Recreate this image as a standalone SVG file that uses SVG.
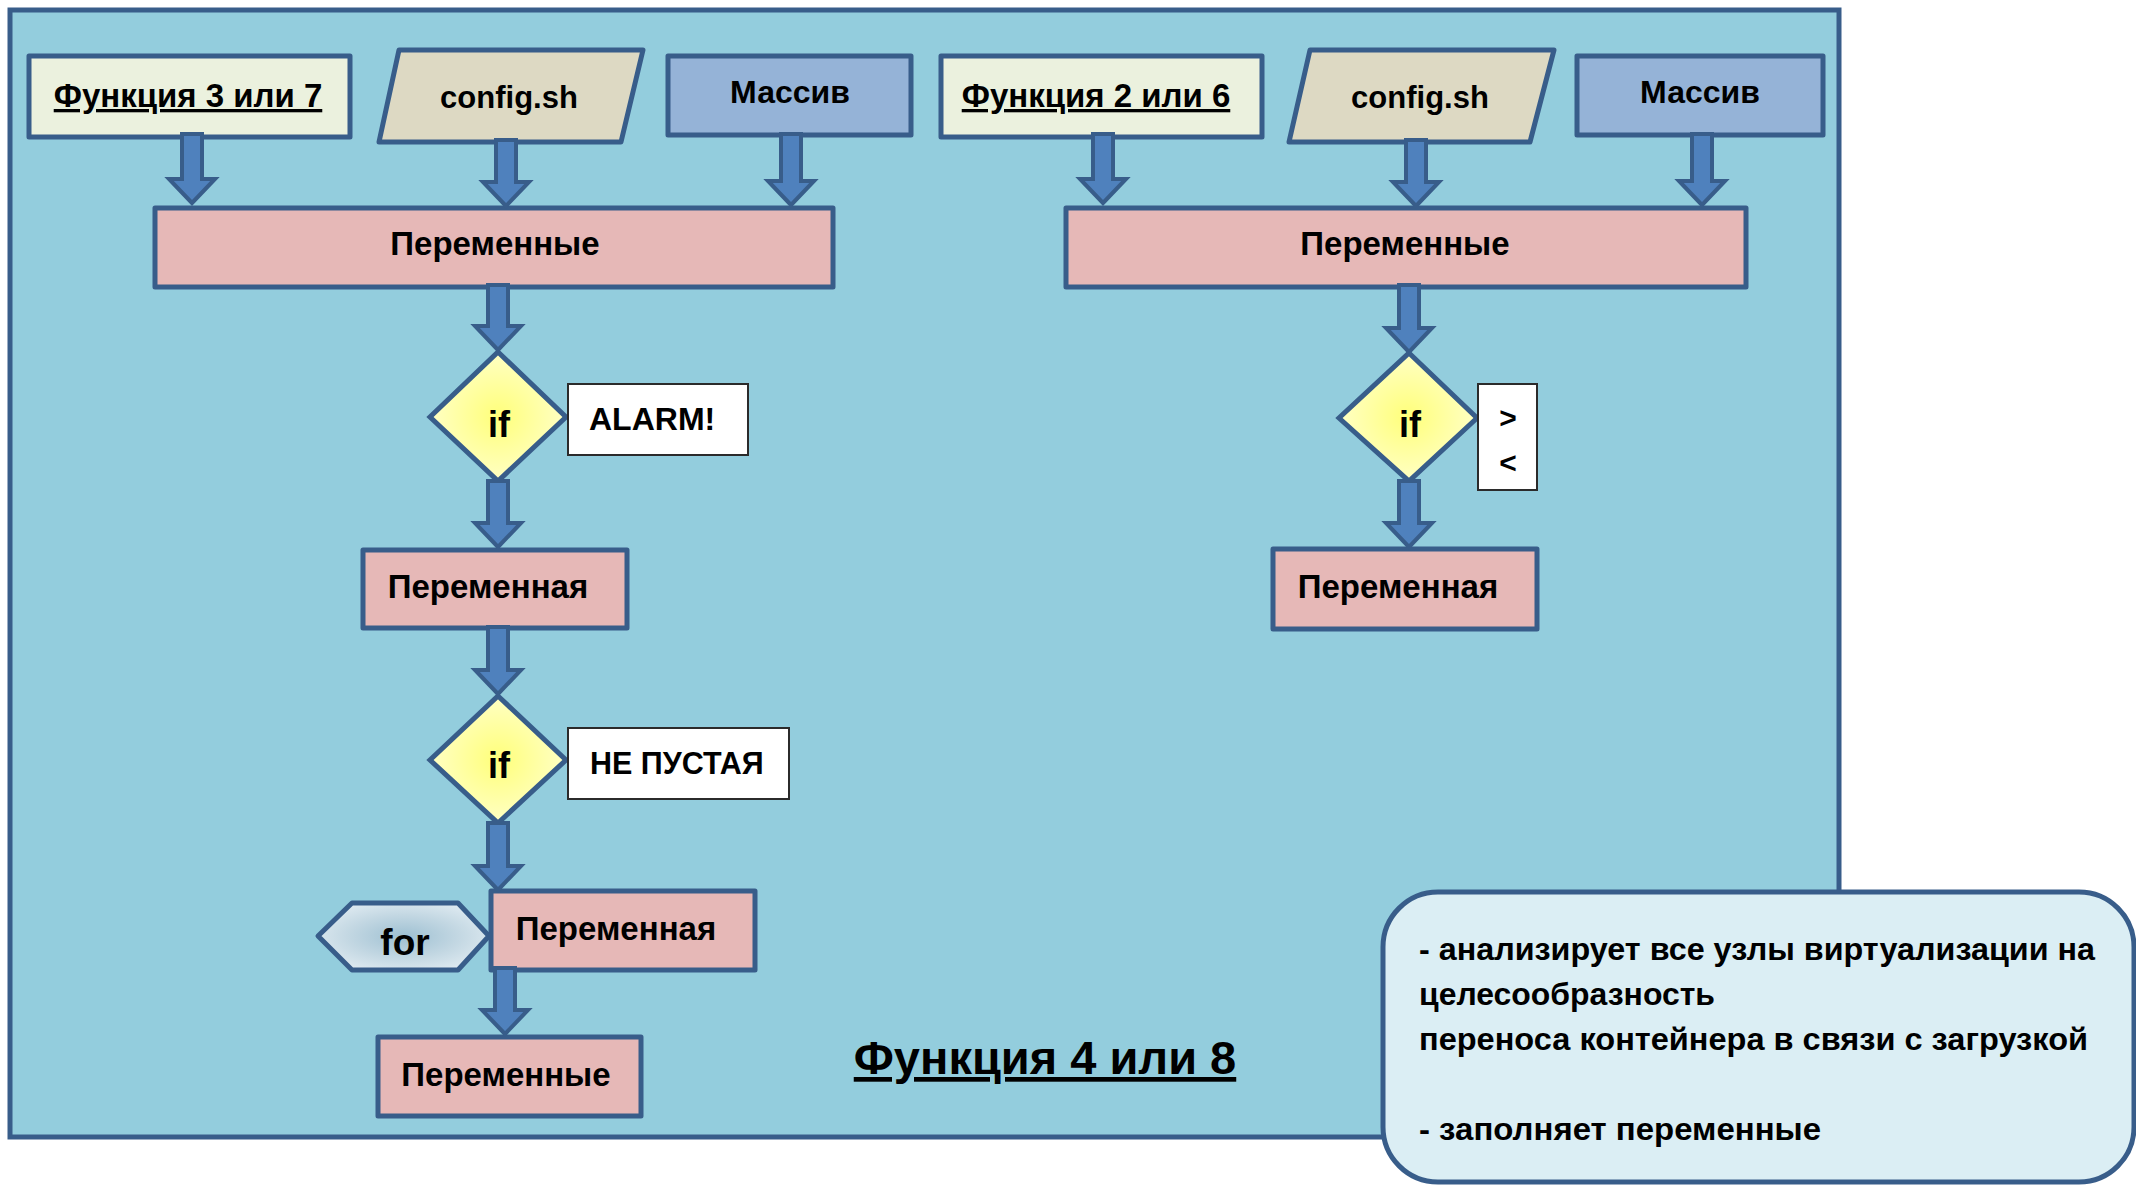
<svg xmlns="http://www.w3.org/2000/svg" width="2136" height="1185" viewBox="0 0 2136 1185">
<defs>
<radialGradient id="gYellow" cx="50%" cy="50%" r="50%">
<stop offset="0" stop-color="#ffff7a"/>
<stop offset="1" stop-color="#ffffc4"/>
</radialGradient>
<radialGradient id="gFor" cx="50%" cy="50%" r="55%">
<stop offset="0" stop-color="#9ec0d2"/>
<stop offset="0.6" stop-color="#c4d8e3"/>
<stop offset="1" stop-color="#dde9f0"/>
</radialGradient>
<style>
.bx{stroke:#385d8a;stroke-width:5;stroke-linejoin:round}
.fn{fill:#ebf1de}
.cfg{fill:#ddd9c3}
.arr{fill:#95b3d7}
.var{fill:#e6b8b7}
.dia{fill:url(#gYellow);stroke:#385d8a;stroke-width:5;stroke-linejoin:miter}
.lbl{fill:#ffffff;stroke:#2b2b2b;stroke-width:2}
.t{font-family:"Liberation Sans",Arial,sans-serif;font-weight:bold;fill:#000;font-size:33px}
.m{text-anchor:middle}
.u{text-decoration:underline}
.n{font-size:32px}
.ar{fill:#4f81bd;stroke:#385d8a;stroke-width:4;stroke-linejoin:miter}
</style>
</defs>
<rect id="container" x="10" y="10" width="1829" height="1127" fill="#93cddd" stroke="#385d8a" stroke-width="5"/>

<g id="fn37"><rect class="bx fn" x="29" y="56" width="321" height="81"/><text class="t m u" x="188" y="107">Функция 3 или 7</text></g>
<g id="cfg1"><polygon class="bx cfg" points="399,50 643,50 621,142 379,142"/><text class="t m" x="509" y="108" style="font-size:31px">config.sh</text></g>
<g id="mas1"><rect class="bx arr" x="668" y="56" width="243" height="79"/><text class="t m" x="790" y="103" style="font-size:32px">Массив</text></g>
<g id="vars1"><rect class="bx var" x="155" y="208" width="678" height="79"/><text class="t m" x="495" y="255">Переменные</text></g>

<g id="fn26"><rect class="bx fn" x="941" y="56" width="321" height="81"/><text class="t m u" x="1096" y="107">Функция 2 или 6</text></g>
<g id="cfg2"><polygon class="bx cfg" points="1310,50 1554,50 1530,142 1289,142"/><text class="t m" x="1420" y="108" style="font-size:31px">config.sh</text></g>
<g id="mas2"><rect class="bx arr" x="1577" y="56" width="246" height="79"/><text class="t m" x="1700" y="103" style="font-size:32px">Массив</text></g>
<g id="vars2"><rect class="bx var" x="1066" y="208" width="680" height="79"/><text class="t m" x="1405" y="255">Переменные</text></g>

<g id="if1"><polygon class="dia" points="498,352 566,417 498,481 430,417"/><text class="t m" x="499" y="437" style="font-size:36px">if</text></g>
<g id="alarm"><rect class="lbl" x="568" y="384" width="180" height="71"/><text class="t" x="589" y="430" style="font-size:32px">ALARM!</text></g>
<g id="var1"><rect class="bx var" x="363" y="550" width="264" height="78"/><text class="t m" x="488" y="598">Переменная</text></g>
<g id="if2"><polygon class="dia" points="498,696 566,760 498,823 430,760"/><text class="t m" x="499" y="778" style="font-size:36px">if</text></g>
<g id="notempty"><rect class="lbl" x="568" y="728" width="221" height="71"/><text class="t" x="590" y="774" style="font-size:30.5px">НЕ ПУСТАЯ</text></g>
<g id="for"><polygon class="bx" fill="url(#gFor)" points="318,936 352,903 458,903 489,936 458,970 352,970"/><text class="t m" x="405" y="955" style="font-size:37px">for</text></g>
<g id="var2"><rect class="bx var" x="491" y="891" width="264" height="79"/><text class="t m" x="616" y="940">Переменная</text></g>
<g id="vars3"><rect class="bx var" x="378" y="1037" width="263" height="79"/><text class="t m" x="506" y="1086">Переменные</text></g>

<g id="if3"><polygon class="dia" points="1409,353 1477,418 1409,481 1339,418"/><text class="t m" x="1410" y="437" style="font-size:36px">if</text></g>
<g id="cmp"><rect class="lbl" x="1478" y="384" width="59" height="106"/><text class="t m" x="1508" y="428" style="font-size:30px">&gt;</text><text class="t m" x="1508" y="473" style="font-size:30px">&lt;</text></g>
<g id="var3"><rect class="bx var" x="1273" y="549" width="264" height="80"/><text class="t m" x="1398" y="598">Переменная</text></g>

<text id="title" class="t m u" x="1045" y="1074" style="font-size:47px">Функция 4 или 8</text>

<g id="connectors">
<path class="ar" d="M182,134H202V179H215L192,203L169,179H182Z"/>
<path class="ar" d="M496,140H516V182H529L506,206L483,182H496Z"/>
<path class="ar" d="M781,134H801V181H814L791,205L768,181H781Z"/>
<path class="ar" d="M1093,134H1113V179H1126L1103,203L1080,179H1093Z"/>
<path class="ar" d="M1406,140H1426V182H1439L1416,206L1393,182H1406Z"/>
<path class="ar" d="M1692,134H1712V181H1725L1702,205L1679,181H1692Z"/>
<path class="ar" d="M488,285H508V326H521L498,350L475,326H488Z"/>
<path class="ar" d="M488,481H508V523H521L498,547L475,523H488Z"/>
<path class="ar" d="M488,627H508V670H521L498,694L475,670H488Z"/>
<path class="ar" d="M488,823H508V866H521L498,890L475,866H488Z"/>
<path class="ar" d="M495,968H515V1010H528L505,1034L482,1010H495Z"/>
<path class="ar" d="M1399,285H1419V328H1432L1409,352L1386,328H1399Z"/>
<path class="ar" d="M1399,481H1419V523H1432L1409,547L1386,523H1399Z"/>
</g>

<g id="note">
<rect x="1383" y="892" width="751" height="290" rx="55" ry="55" fill="#dbeef4" stroke="#385d8a" stroke-width="5"/>
<text class="t n" x="1419" y="960" textLength="676" lengthAdjust="spacingAndGlyphs">- анализирует все узлы виртуализации на</text>
<text class="t n" x="1419" y="1005" textLength="296" lengthAdjust="spacingAndGlyphs">целесообразность</text>
<text class="t n" x="1419" y="1050" textLength="669" lengthAdjust="spacingAndGlyphs">переноса контейнера в связи с загрузкой</text>
<text class="t n" x="1419" y="1140" textLength="402" lengthAdjust="spacingAndGlyphs">- заполняет переменные</text>
</g>
</svg>
